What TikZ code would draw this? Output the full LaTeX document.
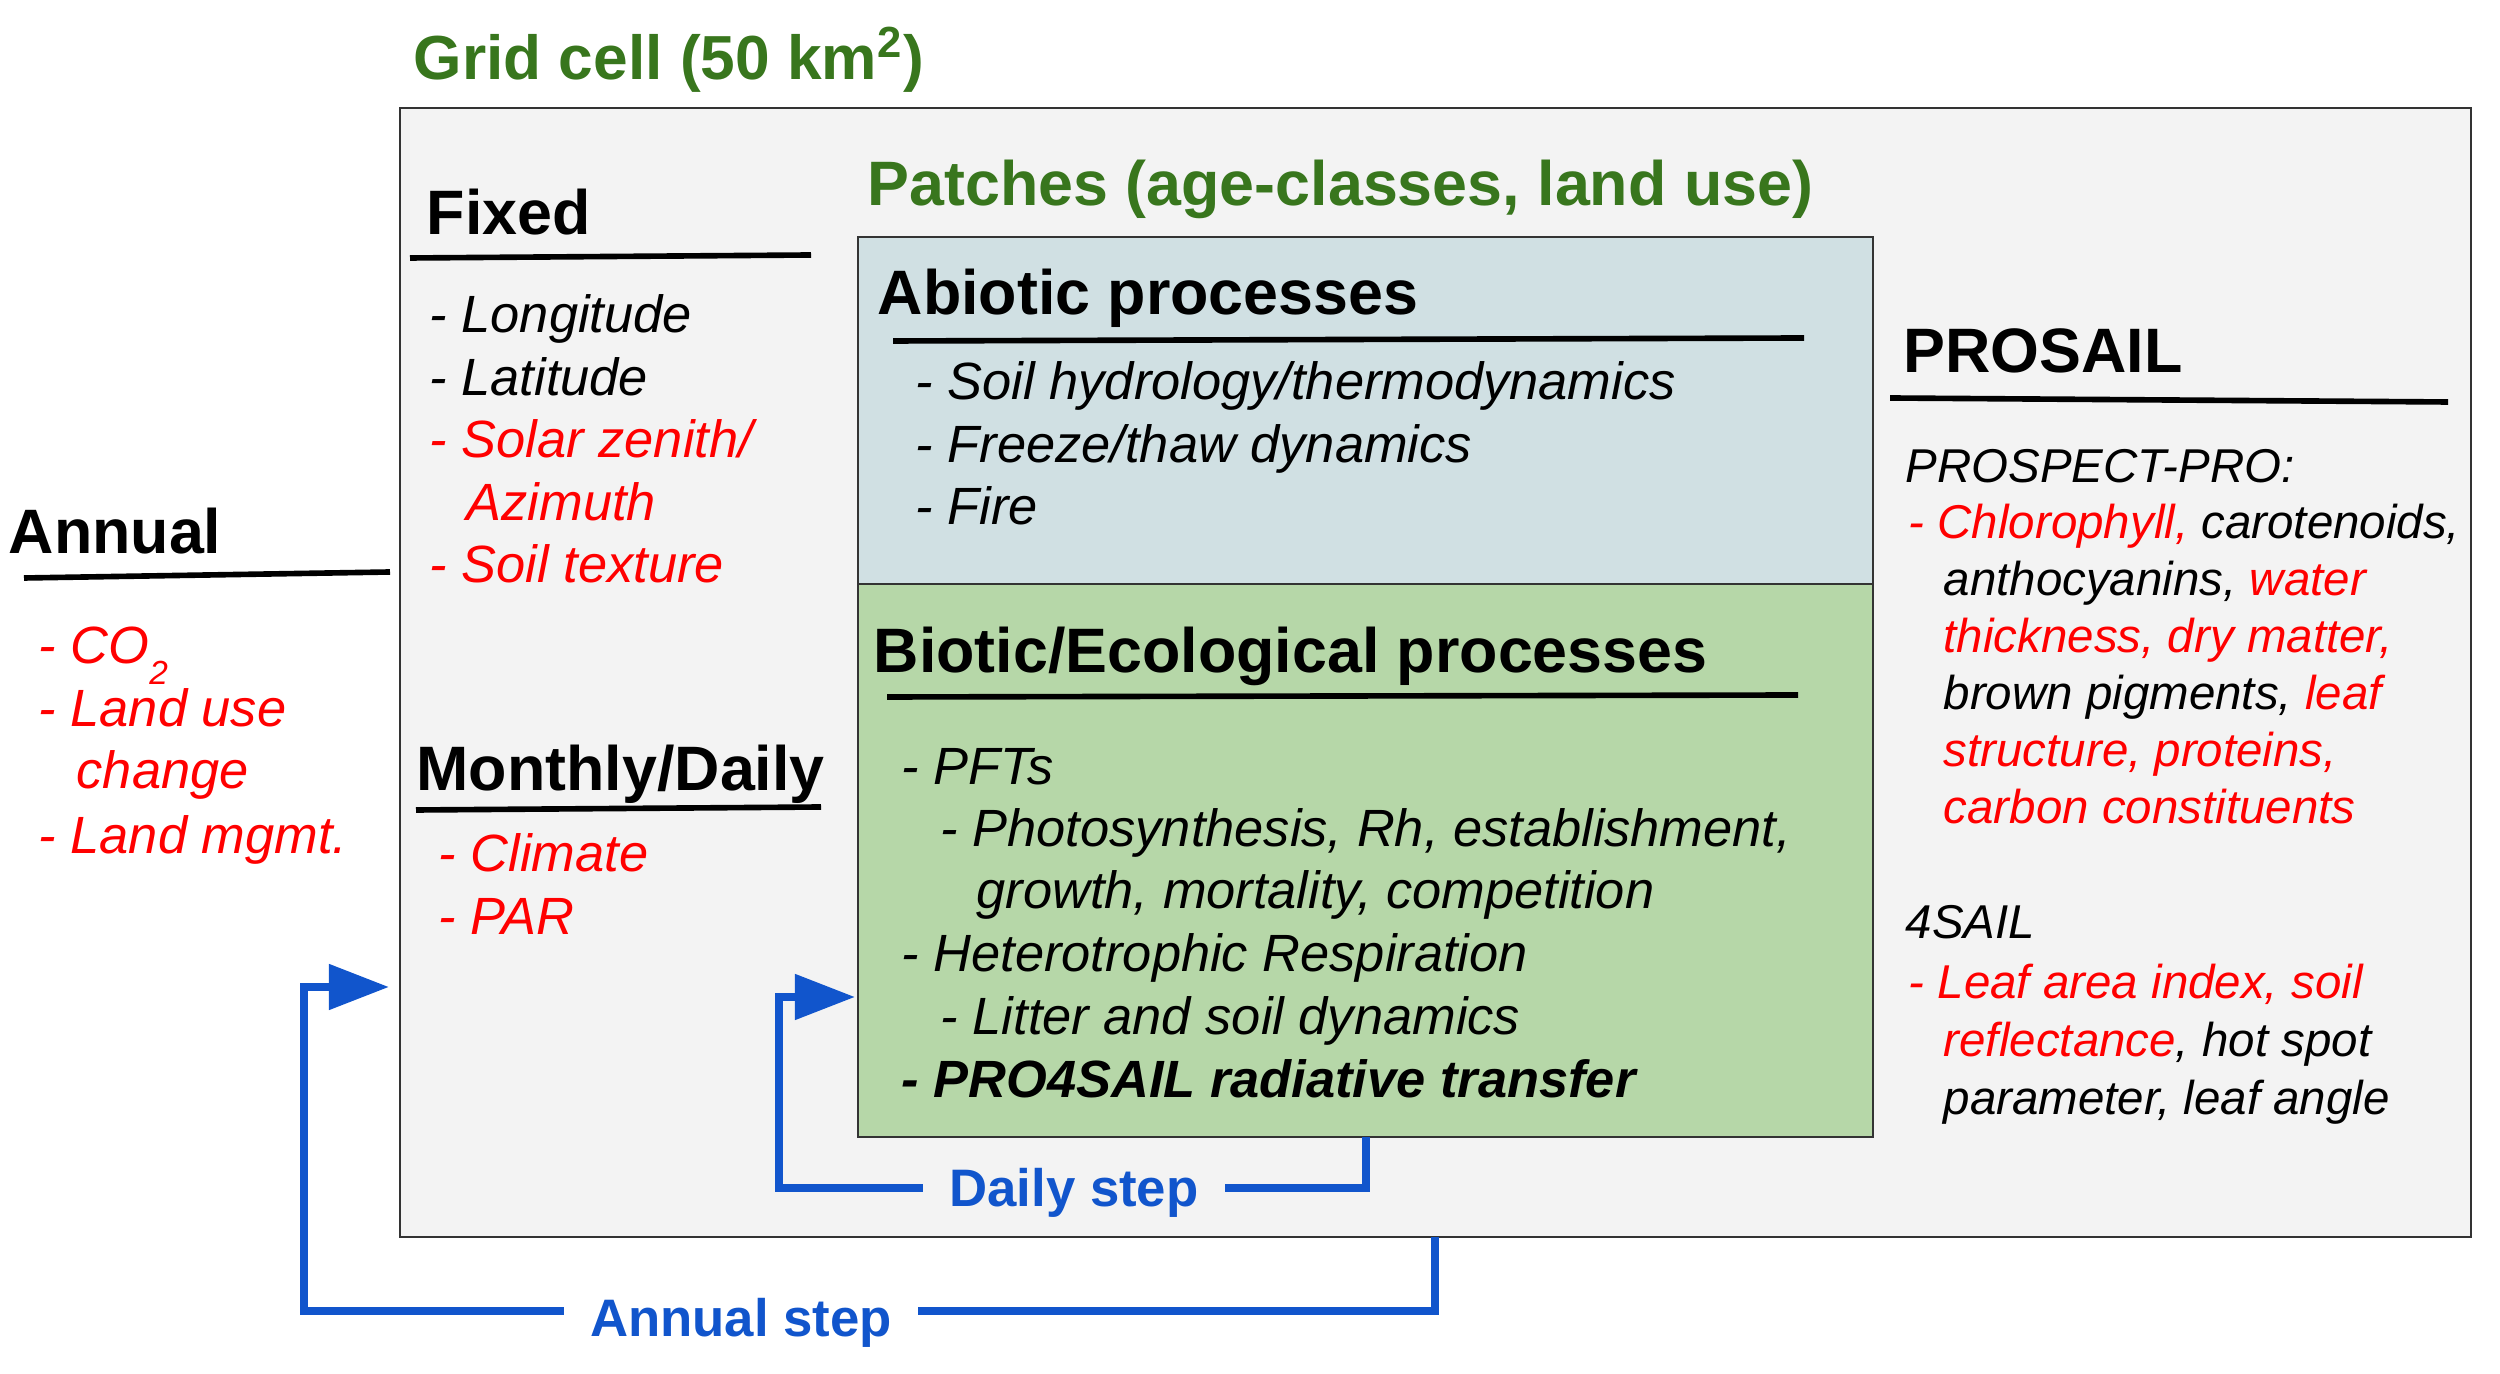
\documentclass[tikz,border=0pt]{standalone}
\usepackage{fontspec}
\setmainfont{Liberation Sans}
\usetikzlibrary{arrows.meta}

\definecolor{gridfill}{HTML}{F3F3F3}
\definecolor{abiofill}{HTML}{D0E0E3}
\definecolor{biofill}{HTML}{B6D7A8}
\definecolor{titlegreen}{HTML}{38761D}
\definecolor{stepblue}{HTML}{1155CC}
\definecolor{inred}{HTML}{FF0000}

\newcommand{\rd}[1]{\textcolor{inred}{#1}}

\tikzset{
  box/.style={draw=black!80, line width=0.6pt, anchor=north west, inner sep=0pt, outer sep=0pt},
  txt/.style={anchor=base west, inner sep=0pt, yshift=-0.03cm},
  title/.style={txt, text=titlegreen, font=\fontsize{17.7}{21}\selectfont\bfseries},
  head/.style={txt, font=\fontsize{17.85}{21}\selectfont\bfseries},
  item/.style={txt, font=\fontsize{14.9}{18}\selectfont\itshape},
  pitem/.style={txt, font=\fontsize{13.5}{16}\selectfont\itshape},
  rule/.style={line width=1.6pt},
  steparrow/.style={draw=stepblue, line width=0.08cm, line join=miter,
    -{Triangle[length=0.6cm, width=0.44cm]}},
  steplabel/.style={anchor=base, yshift=-0.03cm, inner xsep=0.26cm, inner ysep=0.06cm, text=stepblue,
    font=\fontsize{15}{18}\selectfont\bfseries},
}

\begin{document}
\begin{tikzpicture}[x=0.01cm, y=-0.01cm]
\useasboundingbox (0,0) rectangle (2500,1374);

% boxes
\node[box, fill=gridfill, minimum width=20.7cm, minimum height=11.28cm] (grid) at (400,108) {};
\node[box, fill=abiofill, minimum width=10.14cm, minimum height=3.47cm] (abio) at (858,237) {};
\node[box, fill=biofill, minimum width=10.14cm, minimum height=5.53cm] (bio) at (858,584) {};

% titles
\node[title] (gridtitle) at (413,77) {Grid cell (50 km\textsuperscript{2})};
\node[title, font=\fontsize{17.85}{21}\selectfont\bfseries] (patchtitle) at (867,203) {Patches (age-classes, land use)};

% Fixed
\node[head] (fixedhead) at (426,232) {Fixed};
\draw[rule] (410,258) -- (811,255);
\node[item] (f1) at (429,330) {- Longitude};
\node[item] (f2) at (429,393) {- Latitude};
\node[item, text=inred] (f3) at (429,455) {- Solar zenith/};
\node[item, text=inred] (f4) at (466,518) {Azimuth};
\node[item, text=inred] (f5) at (429,580) {- Soil texture};

% Annual
\node[head] (annualhead) at (8,551) {Annual};
\draw[rule] (24,578) -- (390,572);
\node[item, text=inred] (a1) at (38,661) {- CO\raisebox{-0.2cm}{\fontsize{9.5}{10}\selectfont 2}};
\node[item, text=inred] (a2) at (38,724) {- Land use};
\node[item, text=inred] (a3) at (76,786) {change};
\node[item, text=inred] (a4) at (38,851) {- Land mgmt.};

% Monthly/Daily
\node[head] (monthlyhead) at (416,788) {Monthly/Daily};
\draw[rule] (416,810) -- (821,807);
\node[item, text=inred] (m1) at (438,869) {- Climate};
\node[item, text=inred] (m2) at (438,932) {- PAR};

% Abiotic processes
\node[head] (abiohead) at (877,312) {Abiotic processes};
\draw[rule] (893,341) -- (1804,338);
\node[item] (ab1) at (915,397) {- Soil hydrology/thermodynamics};
\node[item] (ab2) at (915,460) {- Freeze/thaw dynamics};
\node[item] (ab3) at (915,522) {- Fire};

% Biotic/Ecological processes
\node[head] (biohead) at (873,670) {Biotic/Ecological processes};
\draw[rule] (887,697) -- (1798,695);
\node[item] (b1) at (901,782) {- PFTs};
\node[item] (b2) at (940,844) {- Photosynthesis, Rh, establishment,};
\node[item] (b3) at (976,906) {growth, mortality, competition};
\node[item] (b4) at (901,969) {- Heterotrophic Respiration};
\node[item] (b5) at (940,1032) {- Litter and soil dynamics};
\node[item, font=\fontsize{14.9}{18}\selectfont\bfseries\itshape] (b6) at (901,1095) {- PRO4SAIL radiative transfer};

% PROSAIL
\node[head] (prosailhead) at (1903,370) {PROSAIL};
\draw[rule] (1890,398) -- (2448,402);
\node[pitem] (p0) at (1905,480) {PROSPECT-PRO:};
\node[pitem] (p1) at (1908,536) {\rd{- Chlorophyll,} carotenoids,};
\node[pitem] (p2) at (1943,593) {anthocyanins, \rd{water}};
\node[pitem, text=inred] (p3) at (1943,650) {thickness, dry matter,};
\node[pitem] (p4) at (1943,707) {brown pigments, \rd{leaf}};
\node[pitem, text=inred] (p5) at (1943,764) {structure, proteins,};
\node[pitem, text=inred] (p6) at (1943,821) {carbon constituents};
\node[pitem] (s0) at (1905,936) {4SAIL};
\node[pitem, text=inred] (s1) at (1908,996) {- Leaf area index, soil};
\node[pitem] (s2) at (1943,1054) {\rd{reflectance}, hot spot};
\node[pitem] (s3) at (1943,1112) {parameter, leaf angle};

% annual loop
\coordinate (annbend1) at (1435,1311);
\coordinate (annbend2) at (304,1311);
\coordinate (annbend3) at (304,987);
\draw[steparrow, shorten >=0.11cm] (grid.south -| annbend1) -- (annbend1) -- (annbend2) -- (annbend3) -- (grid.west |- annbend3);
\node[steplabel, fill=white] (annlabel) at (741,1333) {Annual step};

% daily loop
\coordinate (daybend1) at (1366,1188);
\coordinate (daybend2) at (779,1188);
\coordinate (daybend3) at (779,997);
\draw[steparrow, shorten >=0.03cm] (bio.south -| daybend1) -- (daybend1) -- (daybend2) -- (daybend3) -- (bio.west |- daybend3);
\node[steplabel, fill=gridfill] (daylabel) at (1074,1204) {Daily step};
\end{tikzpicture}
\end{document}
